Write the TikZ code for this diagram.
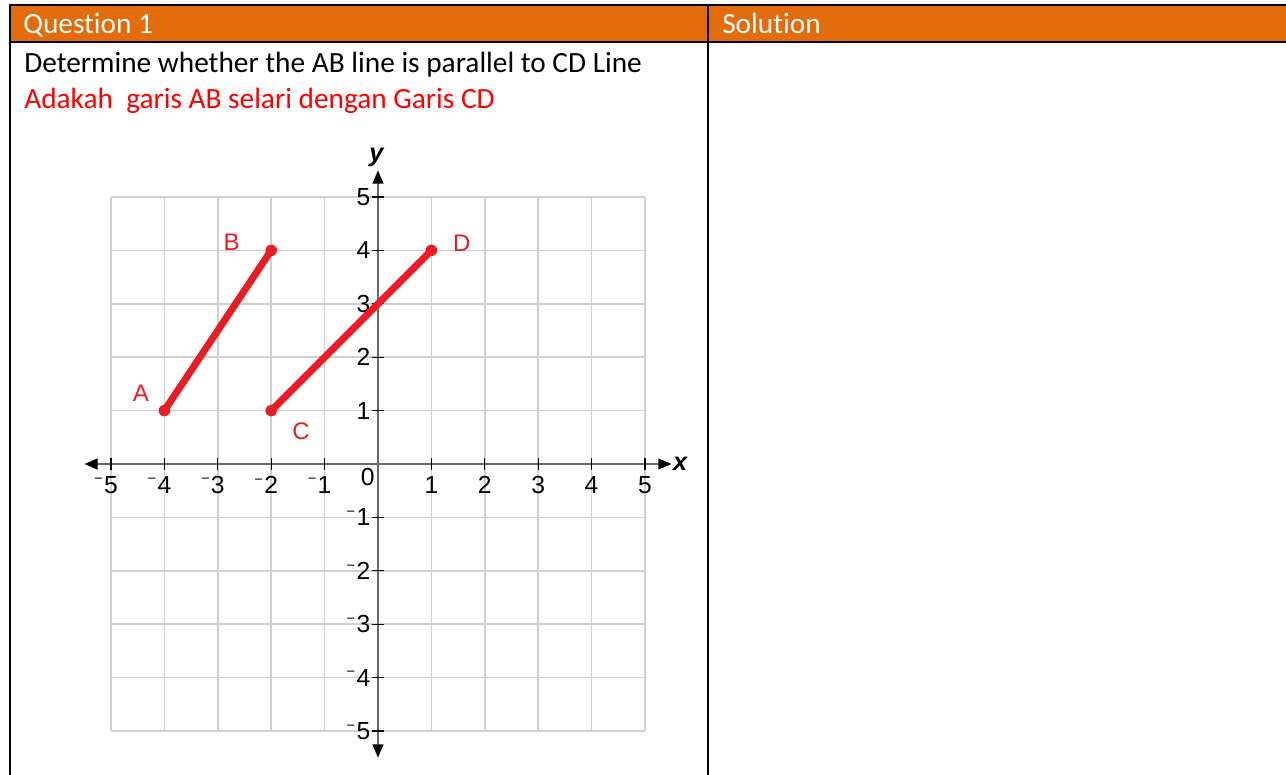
\documentclass[tikz,border=0pt]{standalone}
\usepackage{fontspec}
\setmainfont{Carlito}[Ligatures=NoCommon]
\newfontfamily\plotfont{Liberation Sans}
\usetikzlibrary{arrows.meta,positioning}
\definecolor{hdOrange}{RGB}{226,107,10}
\definecolor{segRed}{RGB}{237,28,36}
\definecolor{gridGray}{RGB}{208,208,208}
\definecolor{axisGray}{RGB}{105,105,105}
\newcommand{\negnum}[1]{\llap{\raisebox{0.38em}{\fontsize{11}{11}\selectfont\char"2212}\hspace{1pt}}#1}

\begin{document}
\begin{tikzpicture}[x=0.75pt,y=-0.75pt,
  cellrule/.style={line width=1.6pt,draw=black},
  cellhead/.style={anchor=base west,inner sep=0pt,text=white,font=\fontsize{22}{22}\selectfont},
  celltext/.style={anchor=base west,inner sep=0pt,font=\fontsize{22}{22}\selectfont},
  numlbl/.style={inner sep=0pt,font=\plotfont\fontsize{18.5}{18.5}\selectfont},
  ptlbl/.style={inner sep=0pt,text=segRed,font=\plotfont\fontsize{18}{18}\selectfont},
  axlbl/.style={inner sep=0pt,font=\plotfont\bfseries\itshape\fontsize{19}{19}\selectfont},
  seg/.style={draw=segRed,line width=5.3pt,line cap=round},
  axtick/.style={draw=black,line width=0.9pt},
  axtip/.tip={Triangle[length=10pt,width=8pt,color=black]}]
  \useasboundingbox (0,0) rectangle (1286,775);
  % table
  \fill[hdOrange] (10,5) rectangle (1286,42);
  \draw[cellrule] (1286,5) -- (10,5) -- (10,775);
  \draw[cellrule] (10,42) -- (1286,42);
  \draw[cellrule] (708,5) -- (708,775);
  \node[cellhead] (qhead) at (23,33) {Question 1};
  \node[cellhead] (shead) at (722,33) {Solution};
  \node[celltext] (qtext) at (24,72) {Determine whether the AB line is parallel to CD Line};
  \node[celltext,text=red] (qmalay) at (24,108) {Adakah\ \ garis AB selari dengan Garis CD};

  % graph
  \begin{scope}[shift={(378,464)},x=40.05pt,y=40.05pt]
    \foreach \k in {-5,...,5} {
      \draw[gridGray,line width=1.1pt] (\k,-5) -- (\k,5);
      \draw[gridGray,line width=1.1pt] (-5,\k) -- (5,\k);
    }
    \coordinate (xl) at (-5.5,0);
    \coordinate (xr) at (5.5,0);
    \coordinate (yb) at (0,-5.5);
    \coordinate (yt) at (0,5.5);
    \draw[axisGray,line width=1.5pt,axtip-axtip] (xl) -- (xr);
    \draw[axisGray,line width=1.5pt,axtip-axtip] (yb) -- (yt);
    \foreach \k in {-5,...,-1,1,2,...,5} {
      \draw[axtick] (\k,-0.12) -- (\k,0.12);
      \draw[axtick] (-0.12,\k) -- (0.12,\k);
    }
    \foreach \k in {1,...,5} {
      \node[numlbl] (xn\k) at (-\k,-0.39) {\negnum{\k}};
      \node[numlbl] (xp\k) at (\k,-0.39) {\k};
      \node[numlbl,anchor=east] (yn\k) at (-0.14,-\k) {\negnum{\k}};
      \node[numlbl,anchor=east] (yp\k) at (-0.14,\k) {\k};
    }
    \node[numlbl] (orig) at (-0.19,-0.25) {0};
    \node[axlbl] (xlab) at (5.66,0) {x};
    \node[axlbl] (ylab) at (-0.03,5.75) {y};

    \coordinate (A) at (-4,1);
    \coordinate (B) at (-2,4);
    \coordinate (C) at (-2,1);
    \coordinate (D) at (1,4);
    \draw[seg] (A) -- (B);
    \draw[seg] (C) -- (D);
    \foreach \p in {A,B,C,D} {\fill[segRed] (\p) circle[radius=4.3pt];}
    \node[ptlbl] (lblA) at (-4.44,1.32) {A};
    \node[ptlbl] (lblB) at (-2.74,4.16) {B};
    \node[ptlbl] (lblC) at (-1.44,0.61) {C};
    \node[ptlbl] (lblD) at (1.57,4.13) {D};
  \end{scope}
\end{tikzpicture}
\end{document}
